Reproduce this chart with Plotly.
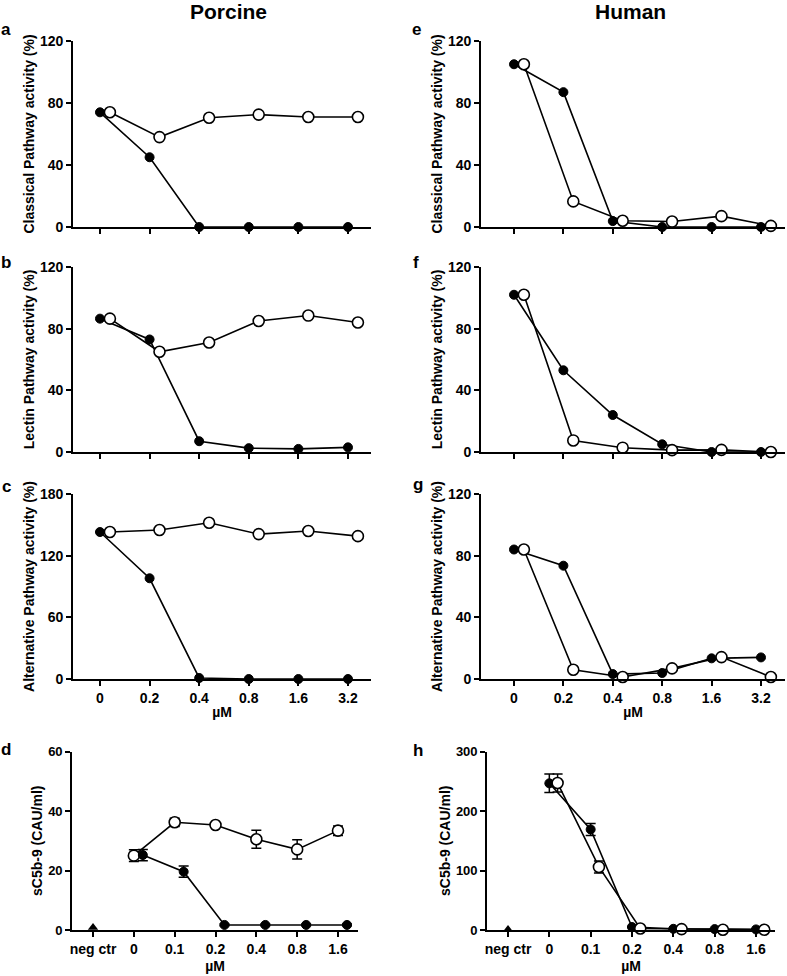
import plotly.graph_objects as go

# x categories
conc = ["0", "0.2", "0.4", "0.8", "1.6", "3.2"]
conc_sc = ["neg ctr", "0", "0.1", "0.2", "0.4", "0.8", "1.6"]

# Porcine (a-c): filled and open symbols
a_filled = [74, 45, 0, 0, 0, 0]
a_open = [74, 58, 70.5, 72.5, 71, 71]
b_filled = [86.5, 73, 7, 2.5, 2, 3]
b_open = [86.5, 65, 71, 85, 88.5, 84]
c_filled = [143, 98, 1, 0, 0, 0]
c_open = [143, 145, 152, 141, 144, 139]

# Human (e-g)
e_filled = [105, 87, 3.8, 0, 0, 0]
e_open = [105, 16.5, 4, 3.5, 7, 0.7]
f_filled = [102, 53, 24, 5, 0, 0]
f_open = [102, 7.5, 2.8, 1.2, 1.4, 0]
g_filled = [84, 73.5, 3.2, 3.9, 13.4, 14]
g_open = [84, 6, 1.3, 6.9, 14.2, 1.3]

# sC5b-9 (d, h); neg ctr kept separately
d_negctr = 0.8
d_filled = [25.2, 19.6, 1.7, 1.7, 1.7, 1.7]
d_filled_err = [1.9, 1.9, 0.3, 0.3, 0.3, 0.3]
d_open = [25, 36.2, 35.3, 30.5, 27.1, 33.4]
d_open_err = [2, 1.4, 0.5, 3, 3.2, 1.6]

h_negctr = 1
h_filled = [246.5, 169, 5, 2, 1.5, 1]
h_filled_err = [15.6, 10, 1, 0.5, 0.5, 0.5]
h_open = [247, 106, 2.5, 1.5, 0.5, 0.5]
h_open_err = [15, 10, 0.5, 0.5, 0.3, 0.3]

W, H = 787, 976
FONT = "Liberation Sans, Arial, sans-serif"
LW = 1.6

fig = go.Figure()


def px_x(a, b):
    return [a / W, b / W]


def px_y(top, bottom):
    return [1 - bottom / H, 1 - top / H]


def add_pair(n, xs, filled, opened, off_filled=0.0, off_open=0.2,
             ferr=None, oerr=None, open_first=False):
    xa, ya = ("x%d" % n if n > 1 else "x"), ("y%d" % n if n > 1 else "y")

    def tr_f():
        return go.Scatter(
            x=[v + off_filled for v in xs], y=filled, xaxis=xa, yaxis=ya,
            mode="lines+markers", line=dict(color="black", width=LW),
            marker=dict(size=9, color="black", line=dict(color="black", width=1)),
            error_y=(dict(type="data", array=ferr, color="black", thickness=1.5, width=5)
                     if ferr else None),
            cliponaxis=False, showlegend=False)

    def tr_o():
        return go.Scatter(
            x=[v + off_open for v in xs], y=opened, xaxis=xa, yaxis=ya,
            mode="lines+markers", line=dict(color="black", width=LW),
            marker=dict(size=11, color="white", line=dict(color="black", width=1.6)),
            error_y=(dict(type="data", array=oerr, color="black", thickness=1.5, width=5)
                     if oerr else None),
            cliponaxis=False, showlegend=False)

    if open_first:
        fig.add_trace(tr_o())
        fig.add_trace(tr_f())
    else:
        fig.add_trace(tr_f())
        fig.add_trace(tr_o())


idx6 = list(range(6))
idx_sc = list(range(1, 7))

add_pair(1, idx6, a_filled, a_open)
add_pair(2, idx6, b_filled, b_open)
add_pair(3, idx6, c_filled, c_open)
add_pair(4, idx_sc, d_filled, d_open, off_filled=0.22, off_open=0.0,
         ferr=d_filled_err, oerr=d_open_err, open_first=True)
add_pair(5, idx6, e_filled, e_open)
add_pair(6, idx6, f_filled, f_open)
add_pair(7, idx6, g_filled, g_open)
add_pair(8, idx_sc, h_filled, h_open, off_filled=0.0, off_open=0.2,
         ferr=h_filled_err, oerr=h_open_err)

for n, v in [(4, d_negctr), (8, h_negctr)]:
    fig.add_trace(go.Scatter(
        x=[0], y=[v], xaxis="x%d" % n, yaxis="y%d" % n, mode="markers",
        marker=dict(symbol="triangle-up", size=9, color="black"),
        cliponaxis=False, showlegend=False))

tickfont = dict(family=FONT, size=14, color="black")
titlefont = dict(family=FONT, size=14, color="black")

# panel geometry in pixels: (x0, x1), (top, bottom), xrange, yrange, yticks
panels = {
    1: ((73, 371), (41, 227), [-0.544, 5.464], [0, 120], [0, 40, 80, 120]),
    2: ((73, 371), (267, 452), [-0.544, 5.464], [0, 120], [0, 40, 80, 120]),
    3: ((73, 371), (494, 679), [-0.544, 5.464], [0, 180], [0, 60, 120, 180]),
    4: ((72, 358), (751.5, 930), [-0.515, 6.49], [0, 60], [0, 20, 40, 60]),
    5: ((481, 785), (41, 227), [-0.668, 5.486], [0, 120], [0, 40, 80, 120]),
    6: ((481, 785), (267, 452), [-0.668, 5.486], [0, 120], [0, 40, 80, 120]),
    7: ((481, 785), (494, 679), [-0.668, 5.486], [0, 120], [0, 40, 80, 120]),
    8: ((487, 775), (751.5, 930), [-0.508, 6.46], [0, 300], [0, 100, 200, 300]),
}
ytitles = {
    1: "Classical Pathway activity (%)", 2: "Lectin Pathway activity (%)",
    3: "Alternative Pathway activity (%)", 4: "sC5b-9 (CAU/ml)",
    5: "Classical Pathway activity (%)", 6: "Lectin Pathway activity (%)",
    7: "Alternative Pathway activity (%)", 8: "sC5b-9 (CAU/ml)",
}

layout = {}
for n, (xp, yp, xr, yr, yt) in panels.items():
    sfx = "" if n == 1 else str(n)
    if n in (4, 8):
        tv, tt, xtitle, xso = list(range(7)), conc_sc, "µM", 6
    elif n in (3, 7):
        tv, tt, xtitle, xso = idx6, conc, "µM", 3
    else:
        tv, tt, xtitle, xso = idx6, [""] * 6, None, 0
    yfont = dict(tickfont, size=13) if n in (4, 8) else tickfont
    layout["xaxis" + sfx] = dict(
        domain=px_x(*xp), range=xr, anchor="y" + sfx, showgrid=False, zeroline=False,
        showline=True, linecolor="black", linewidth=LW, ticks="outside", ticklen=5,
        tickwidth=1.5, tickcolor="black", tickvals=tv,
        ticktext=["<b>%s</b>" % t if t else "" for t in tt],
        tickfont=tickfont, automargin=False,
        title=dict(text="<b>%s</b>" % xtitle, font=titlefont, standoff=xso) if xtitle else None)
    layout["yaxis" + sfx] = dict(
        domain=px_y(*yp), range=yr, anchor="x" + sfx, showgrid=False, zeroline=False,
        showline=True, linecolor="black", linewidth=LW, ticks="outside", ticklen=5,
        tickwidth=1.5, tickcolor="black", tickvals=yt,
        ticktext=["<b>%d</b>" % v for v in yt], tickfont=yfont, automargin=False,
        title=dict(text="<b>%s</b>" % ytitles[n], font=titlefont, standoff=2))

fig.update_layout(**layout)

annotations = [
    dict(text="<b>Porcine</b>", x=228 / W, y=1 - 12 / H, font=dict(family=FONT, size=21)),
    dict(text="<b>Human</b>", x=630 / W, y=1 - 12 / H, font=dict(family=FONT, size=21)),
]
for letter, (lx, ly) in {"a": (6, 30), "b": (6, 262), "c": (6, 486), "d": (6, 749),
                         "e": (416, 30), "f": (416, 262), "g": (418, 484),
                         "h": (418, 750)}.items():
    annotations.append(dict(text="<b>%s</b>" % letter, x=lx / W, y=1 - ly / H,
                            font=dict(family=FONT, size=17)))
for an in annotations:
    an.update(xref="paper", yref="paper", showarrow=False,
              xanchor="center", yanchor="middle")
    an["font"]["color"] = "black"

fig.update_layout(
    width=W, height=H, margin=dict(l=0, r=0, t=0, b=0),
    paper_bgcolor="white", plot_bgcolor="white",
    font=dict(family=FONT, color="black"),
    annotations=annotations, showlegend=False,
)

fig.write_html("out.html", config={"displayModeBar": False},
               post_script="document.body.style.margin='0px';")
